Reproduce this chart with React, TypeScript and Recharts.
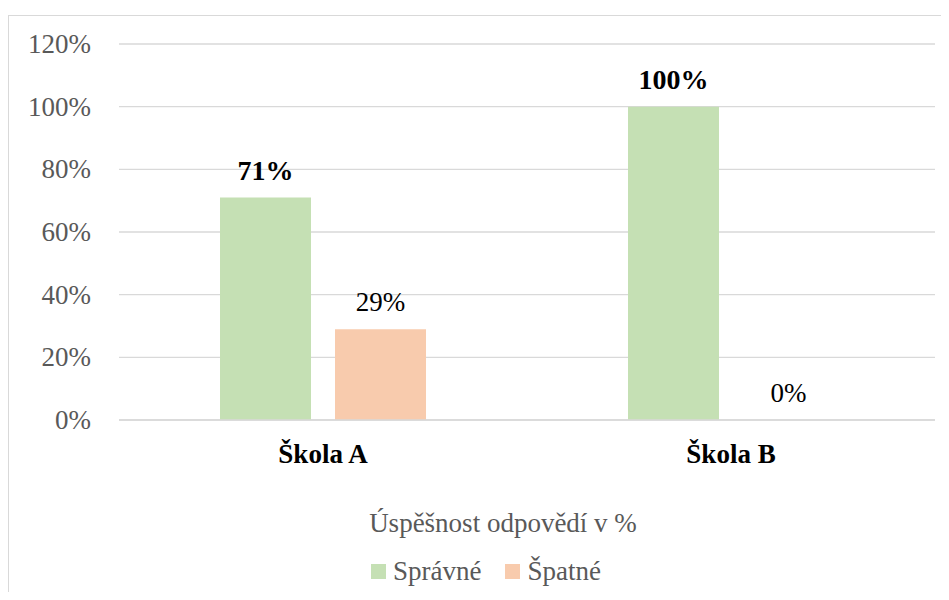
import { BarChart, Bar, XAxis, YAxis, CartesianGrid } from 'recharts';

const schools = ['Škola A', 'Škola B'];
const spravne = [0.71, 1.0];
const spatne = [0.29, 0];
const yTicks = [0, 0.2, 0.4, 0.6, 0.8, 1.0, 1.2];

const data = schools.map((name, i) => ({ name, spravne: spravne[i], spatne: spatne[i] }));

const FONT = '"Liberation Serif", "DejaVu Serif", serif';
const GREEN = '#c5e0b4';
const ORANGE = '#f8cbad';
const GRAY = '#595959';

const pct = (v: number) => `${Math.round(v * 100)}%`;

const makeLabel = (bold: boolean) => (props: any) => {
  const { x, y, width, value } = props;
  return (
    <text
      x={Number(x) + Number(width) / 2}
      y={Number(y) - 18}
      textAnchor="middle"
      style={{ fontFamily: FONT, fontSize: bold ? 28 : 27, fontWeight: bold ? 'bold' : 'normal' }}
      fill="#000"
    >
      {pct(Number(value))}
    </text>
  );
};

const XTick = (props: any) => {
  const { x, y, payload } = props;
  return (
    <text x={x} y={y} dy={19} textAnchor="middle" fill="#000" style={{ fontFamily: FONT, fontSize: 27, fontWeight: 'bold' }}>
      {payload.value}
    </text>
  );
};

const YTick = (props: any) => {
  const { x, y, payload } = props;
  return (
    <text x={x} y={y} dy={9} textAnchor="end" fill={GRAY} style={{ fontFamily: FONT, fontSize: 27 }}>
      {pct(payload.value)}
    </text>
  );
};

function LegendBox() {
  return (
    <div style={{ fontFamily: FONT, color: GRAY, fontSize: 27, position: 'absolute', left: 0, top: 508, width: 949, height: 100 }}>
      <div style={{ position: 'absolute', left: 0, width: 1006, top: 0, textAlign: 'center', lineHeight: '30px' }}>
        Úspěšnost odpovědí v %
      </div>
      <div style={{ position: 'absolute', left: 371, top: 48, display: 'flex', alignItems: 'center', lineHeight: '30px' }}>
        <span style={{ width: 15, height: 15, background: GREEN, display: 'inline-block', marginRight: 7 }} />
        <span>Správné</span>
        <span style={{ width: 15, height: 15, background: ORANGE, display: 'inline-block', marginLeft: 24, marginRight: 7 }} />
        <span>Špatné</span>
      </div>
    </div>
  );
}

export default function App() {
  return (
    <div style={{ position: 'relative', width: 949, height: 600, margin: -8, overflow: 'hidden', background: '#fff', fontFamily: FONT }}>
      <div style={{ position: 'absolute', left: 8, top: 15, width: 1000, height: 700, border: '1px solid #d9d9d9' }} />
      <div style={{ position: 'absolute', left: 0, top: 0 }}>
        <BarChart
          width={949}
          height={600}
          data={data}
          margin={{ top: 44, right: 14, left: 0, bottom: 150 }}
          barSize={91}
          barGap={24}
        >
          <CartesianGrid vertical={false} stroke="#d9d9d9" strokeWidth={1.3} />
          <XAxis
            dataKey="name"
            height={30}
            axisLine={{ stroke: '#d9d9d9', strokeWidth: 1.3 }}
            tickLine={false}
            tickSize={0}
            tickMargin={24}
            tick={<XTick />}
          />
          <YAxis
            width={119}
            domain={[0, 1.2]}
            ticks={yTicks}
            axisLine={false}
            tickLine={false}
            tickSize={0}
            tickMargin={28}
            tick={<YTick />}
          />
          <Bar dataKey="spravne" fill={GREEN} isAnimationActive={false} label={makeLabel(true)} />
          <Bar dataKey="spatne" fill={ORANGE} isAnimationActive={false} minPointSize={0.05} label={makeLabel(false)} />
        </BarChart>
      </div>
      <LegendBox />
    </div>
  );
}
